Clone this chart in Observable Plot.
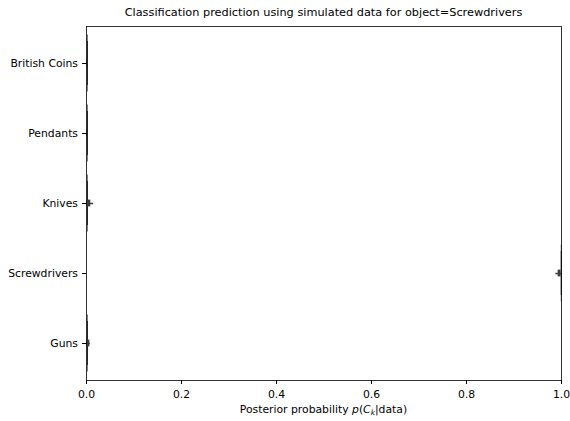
<!DOCTYPE html>
<html>
<head>
<meta charset="utf-8">
<script src="https://cdn.jsdelivr.net/npm/d3@7"></script>
<script src="https://cdn.jsdelivr.net/npm/@observablehq/plot@0.6"></script>
<style>
  body { margin: 0; background: white; font-family: "DejaVu Sans", sans-serif; }
  #title { width: 570px; height: 20px; box-sizing: border-box; padding: 6px 9px 0 86px; font-size: 11.3px; line-height: 13px; text-align: center; color: black; white-space: nowrap; }
</style>
</head>
<body>
<div id="title">Classification prediction using simulated data for object=Screwdrivers</div>
<div id="chart"></div>
<script>
const categories = ["British Coins", "Pendants", "Knives", "Screwdrivers", "Guns"];
const violinPos  = [0.002, 0.002, 0.002, 0.9995, 0.002];
const q1         = [0.000, 0.000, 0.001, 0.993, 0.001];
const q3         = [0.001, 0.001, 0.009, 0.999, 0.007];
const whiskLo    = [0.000, 0.000, 0.000, 0.988, 0.000];
const whiskHi    = [0.002, 0.002, 0.015, 1.000, 0.008];
const xTicks     = [0, 0.2, 0.4, 0.6, 0.8, 1.0];

const rows = categories.map((c, i) => ({
  cat: c, v: violinPos[i], q1: q1[i], q3: q3[i], lo: whiskLo[i], hi: whiskHi[i]
}));

const svg = Plot.plot({
  width: 570,
  height: 401,
  marginTop: 6,
  marginBottom: 41,
  marginLeft: 86,
  marginRight: 9,
  style: { fontFamily: "DejaVu Sans", fontSize: "10.8px", color: "black", background: "white" },
  x: { domain: [0, 1], ticks: xTicks, tickFormat: d3.format(".1f"), tickSize: 4, tickPadding: 6.3, label: null },
  y: { domain: categories, padding: 0, tickSize: 4, tickPadding: 4.5, label: null },
  marks: [
    Plot.tickX(rows, { x: "v", y: "cat", stroke: "#777", strokeWidth: 1, insetTop: 6.5, insetBottom: 6.5 }),
    Plot.tickX(rows, { x: "v", y: "cat", stroke: "#222", strokeWidth: 1, insetTop: 13, insetBottom: 13 }),
    Plot.ruleY(rows, { y: "cat", x1: "lo", x2: "hi", stroke: "#3d3d3d", strokeWidth: 1.5 }),
    Plot.barX(rows, { y: "cat", x1: "q1", x2: "q3", fill: "#3d3d3d", insetTop: 31.6, insetBottom: 31.6 }),
    Plot.frame({ stroke: "black", strokeWidth: 0.8 })
  ]
});

const label = d3.select(svg).append("text")
  .attr("x", 86 + 475 / 2)
  .attr("y", 393)
  .attr("text-anchor", "middle")
  .attr("fill", "black")
  .style("font-family", "DejaVu Sans")
  .style("font-size", "10.8px");
label.append("tspan").text("Posterior probability ");
label.append("tspan").attr("font-style", "italic").text("p");
label.append("tspan").text("(");
label.append("tspan").attr("font-style", "italic").text("C");
label.append("tspan").attr("font-style", "italic").attr("font-size", "7.5px").attr("dy", 2).text("k");
label.append("tspan").attr("dy", -2).text("|data)");

document.getElementById("chart").appendChild(svg);
</script>
</body>
</html>
